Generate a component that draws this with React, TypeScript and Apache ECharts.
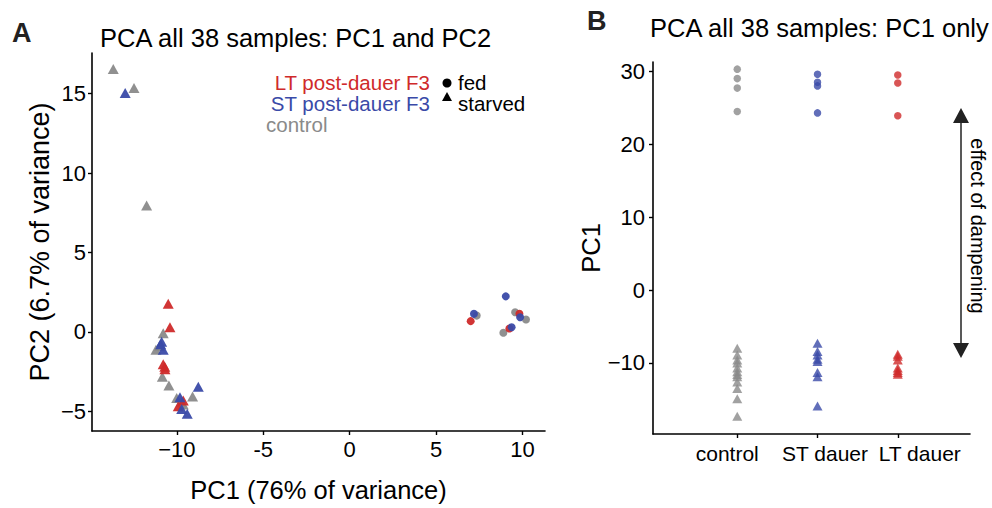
import React, { useEffect, useRef } from 'react';
import * as echarts from 'echarts';

const RED = '#cf2a2a';
const BLUE = '#3a4aa8';
const GRAY = '#8a8a8a';
const FONT = '"Liberation Sans", Arial, Helvetica, sans-serif';

// Panel A: [PC1, PC2]
const controlFedA = [[7.35, 1.02], [9.57, 1.23], [10.2, 0.77], [8.89, -0.06]];
const stFedA = [[9.03, 2.23], [7.19, 1.13], [9.86, 0.92], [9.37, 0.29]];
const ltFedA = [[7.0, 0.67], [9.82, 1.14], [9.24, 0.21]];
const controlStarvedA = [
  [-13.68, 16.56], [-12.48, 15.36], [-11.75, 7.96], [-10.79, -0.1], [-11.21, -1.13],
  [-11.0, -0.9], [-10.84, -2.83], [-10.46, -3.39], [-9.09, -4.08], [-10.01, -4.17],
  [-9.63, -4.58], [-9.75, -4.4],
];
const stStarvedA = [
  [-12.99, 15.04], [-10.88, -0.63], [-10.94, -0.79], [-10.79, -1.13], [-8.76, -3.46],
  [-9.82, -4.13], [-9.72, -4.86], [-9.4, -5.17],
];
const ltStarvedA = [
  [-10.5, 1.77], [-10.4, 0.29], [-10.79, -2.04], [-10.69, -2.36], [-10.7, -2.2],
  [-9.63, -4.33], [-9.92, -4.69],
];
const xTicksA = [-10, -5, 0, 5, 10];
const yTicksA = [-5, 0, 5, 10, 15];

// Panel B: PC1 per group
const categoriesB = ['control', 'ST dauer', 'LT dauer'];
const controlFedB = [30.3, 29.0, 27.7, 24.5];
const stFedB = [29.6, 28.5, 28.0, 24.3];
const ltFedB = [29.5, 28.4, 23.9];
const controlStarvedB = [-8.0, -8.9, -9.6, -10.0, -10.7, -11.2, -11.6, -11.9, -12.6, -13.5, -14.9, -17.3];
const stStarvedB = [-7.3, -8.45, -8.9, -9.5, -9.8, -11.3, -11.9, -15.9];
const ltStarvedB = [-8.8, -9.1, -9.6, -10.7, -11.05, -11.3, -11.55];
const yTicksB = [-10, 0, 10, 20, 30];

const toB = (cat: number, vals: number[]) => vals.map((v) => [cat + 1, v]);

function scatterA(data: number[][], color: string, starved: boolean) {
  return {
    type: 'scatter',
    xAxisIndex: 0,
    yAxisIndex: 0,
    data,
    symbol: starved ? 'triangle' : 'circle',
    symbolSize: starved ? [11, 10] : 8,
    itemStyle: { color, opacity: 0.95 },
    silent: true,
  };
}
function scatterB(data: number[][], color: string, starved: boolean) {
  return {
    type: 'scatter',
    xAxisIndex: 1,
    yAxisIndex: 1,
    data,
    symbol: starved ? 'triangle' : 'circle',
    symbolSize: starved ? [10, 9] : 7.5,
    itemStyle: { color, opacity: 0.8 },
    silent: true,
  };
}

const minusLong = (v: number) => (v < 0 ? '\u2212' + Math.abs(v) : String(v));

const axisCommon = {
  axisLine: { onZero: false, lineStyle: { color: '#000', width: 1.6 } },
  axisTick: { show: true, length: 4, lineStyle: { color: '#000', width: 1.4 } },
  splitLine: { show: false },
  nameTextStyle: { color: '#000', fontSize: 25.5, fontFamily: FONT },
};

function txt(text: string, x: number, y: number, size: number, color: string, align = 'left', extra: any = {}) {
  const { bold, lineHeight, ...rest } = extra;
  return {
    type: 'text',
    x,
    y,
    silent: true,
    ...rest,
    style: {
      text,
      fill: color,
      fontSize: size,
      fontFamily: FONT,
      fontWeight: bold ? 'bold' : 'normal',
      lineHeight: lineHeight || undefined,
      align,
      textAlign: align,
      verticalAlign: 'middle',
      textVerticalAlign: 'middle',
    },
  };
}

export default function App() {
  const ref = useRef<HTMLDivElement>(null);
  useEffect(() => {
    document.body.style.margin = '0';
    const chart = echarts.init(ref.current!, null, { renderer: 'svg' });
    const option: any = {
      animation: false,
      backgroundColor: '#fff',
      textStyle: { fontFamily: FONT },
      grid: [
        { left: 92, top: 53, width: 453, height: 381 },
        { left: 653, top: 62, width: 317, height: 372 },
      ],
      xAxis: [
        {
          ...axisCommon,
          gridIndex: 0,
          type: 'value',
          min: -14.91,
          max: 11.3,
          name: 'PC1 (76% of variance)',
          nameLocation: 'middle',
          nameGap: 46,
          axisTick: { ...axisCommon.axisTick, customValues: xTicksA },
          axisLabel: {
            customValues: xTicksA,
            color: '#000',
            fontSize: 22,
            fontFamily: FONT,
            margin: 7,
            formatter: (v: number) => (v === -10 ? '\u221210' : String(v)),
          },
        },
        {
          ...axisCommon,
          gridIndex: 1,
          type: 'value',
          min: -0.05,
          max: 3.9,
          axisTick: { ...axisCommon.axisTick, customValues: [1, 2, 3] },
          axisLabel: {
            customValues: [1, 2, 3],
            color: '#000',
            fontSize: 21,
            fontFamily: FONT,
            margin: 9,
            formatter: (v: number) => `{c${v}|${categoriesB[v - 1]}}`,
            rich: {
              c1: { fontSize: 21, fontFamily: FONT, color: '#000', padding: [0, 20, 0, 0] },
              c2: { fontSize: 21, fontFamily: FONT, color: '#000', padding: [0, 0, 0, 15] },
              c3: { fontSize: 21, fontFamily: FONT, color: '#000', padding: [0, 0, 0, 44] },
            },
          },
        },
      ],
      yAxis: [
        {
          ...axisCommon,
          gridIndex: 0,
          type: 'value',
          min: -6.25,
          max: 17.56,
          name: 'PC2 (6.7% of variance)',
          nameLocation: 'middle',
          nameGap: 39,
          nameTextStyle: { color: '#000', fontSize: 27, fontFamily: FONT },
          axisTick: { ...axisCommon.axisTick, customValues: yTicksA },
          axisLabel: {
            customValues: yTicksA,
            color: '#000',
            fontSize: 22,
            fontFamily: FONT,
            margin: 6,
            formatter: minusLong,
          },
        },
        {
          ...axisCommon,
          gridIndex: 1,
          type: 'value',
          min: -19.75,
          max: 31.28,
          name: 'PC1',
          nameLocation: 'middle',
          nameGap: 47,
          axisTick: { ...axisCommon.axisTick, customValues: yTicksB },
          axisLabel: {
            customValues: yTicksB,
            color: '#000',
            fontSize: 22,
            fontFamily: FONT,
            margin: 8,
            formatter: minusLong,
          },
        },
      ],
      series: [
        scatterA(controlStarvedA, GRAY, true),
        scatterA(controlFedA, GRAY, false),
        scatterA(ltStarvedA, RED, true),
        scatterA(ltFedA, RED, false),
        scatterA(stStarvedA, BLUE, true),
        scatterA(stFedA, BLUE, false),
        scatterB(toB(0, controlStarvedB), GRAY, true),
        scatterB(toB(0, controlFedB), GRAY, false),
        scatterB(toB(1, stStarvedB), BLUE, true),
        scatterB(toB(1, stFedB), BLUE, false),
        scatterB(toB(2, ltStarvedB), RED, true),
        scatterB(toB(2, ltFedB), RED, false),
      ],
      graphic: [
        txt('A', 12, 33, 27, '#222', 'left', { bold: true }),
        txt('B', 587, 21, 27, '#222', 'left', { bold: true }),
        txt('PCA all 38 samples: PC1 and PC2', 100, 38, 25.5, '#000'),
        txt('PCA all 38 samples: PC1 only', 650, 28, 25.5, '#000'),
        txt('LT post-dauer F3', 430, 82, 20.5, RED, 'right', { lineHeight: 20 }),
        txt('ST post-dauer F3', 430, 103, 20.5, BLUE, 'right', { lineHeight: 20 }),
        txt('control', 266, 124, 20.5, GRAY, 'left', { lineHeight: 20 }),
        { type: 'circle', silent: true, shape: { cx: 447, cy: 83, r: 4.5 }, style: { fill: '#000' } },
        {
          type: 'polygon',
          silent: true,
          shape: { points: [[447, 92], [442, 101], [452, 101]] },
          style: { fill: '#000' },
        },
        txt('fed', 458, 82, 20.5, '#000', 'left', { lineHeight: 20 }),
        txt('starved', 458, 103, 20.5, '#000', 'left', { lineHeight: 20 }),
        {
          type: 'line',
          silent: true,
          shape: { x1: 961, y1: 118, x2: 961, y2: 348 },
          style: { stroke: '#222', lineWidth: 1.5 },
        },
        {
          type: 'polygon',
          silent: true,
          shape: { points: [[961, 108], [953, 123], [969, 123]] },
          style: { fill: '#222' },
        },
        {
          type: 'polygon',
          silent: true,
          shape: { points: [[961, 358], [953, 343], [969, 343]] },
          style: { fill: '#222' },
        },
        txt('effect of dampening', 978, 226, 20, '#000', 'center', { rotation: -Math.PI / 2 }),
      ],
    };
    chart.setOption(option);
    return () => chart.dispose();
  }, []);
  return <div ref={ref} style={{ position: 'absolute', left: 0, top: 0, width: 992, height: 508 }} />;
}
